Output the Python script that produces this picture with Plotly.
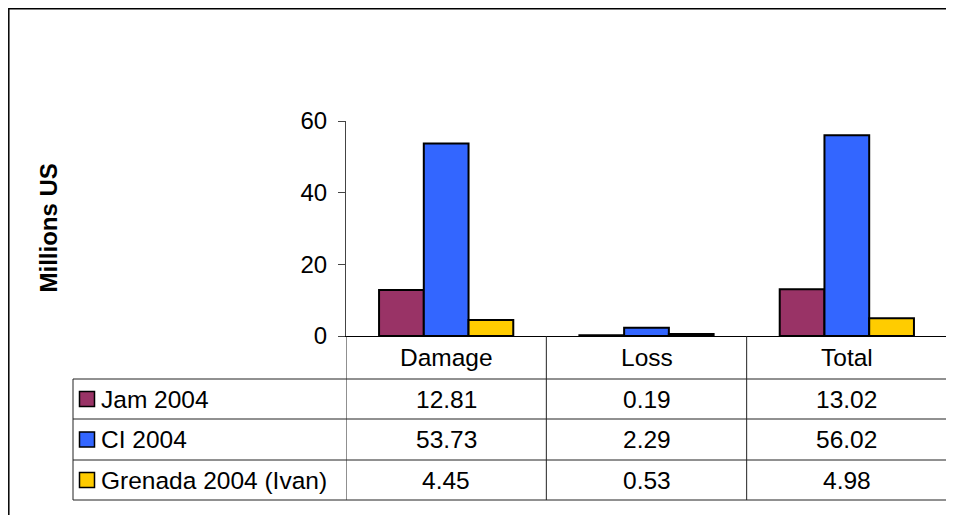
import plotly.graph_objects as go

categories = ["Damage", "Loss", "Total"]
series_names = ["Jam 2004", "CI 2004", "Grenada 2004 (Ivan)"]
jam_2004 = [12.81, 0.19, 13.02]
ci_2004 = [53.73, 2.29, 56.02]
grenada_2004 = [4.45, 0.53, 4.98]
series_colors = ["#993366", "#3366FF", "#FFCC00"]
y_ticks = [0, 20, 40, 60]
y_title = "Millions US"

series_values = [jam_2004, ci_2004, grenada_2004]

PAGE_W, PAGE_H = 954, 515
OFF = 8  # default body margin of the html page
W, H = PAGE_W - OFF, PAGE_H - OFF
# plot area in page pixels
L, R, T, B = 346, 947, 121, 336
FONT = "Liberation Sans, Arial, sans-serif"
FS_TABLE = 24.5
FS_TICK = 24
FS_TITLE = 24

def px(xp):
    return (xp - L) / (R - L)

def py(yp):
    return (B - yp) / (B - T)

fig = go.Figure()
for name, vals, col in zip(series_names, series_values, series_colors):
    fig.add_bar(x=categories, y=vals, name=name,
                marker=dict(color=col, line=dict(color="black", width=2)))

shapes = []
annotations = []
line = dict(color="#222222", width=1)

row_edges = [379, 419, 460, 500]
header_mid = (B + row_edges[0]) / 2
row_mids = [(row_edges[i] + row_edges[i + 1]) / 2 for i in range(3)]

for ye in row_edges:
    shapes.append(dict(type="line", xref="paper", yref="paper",
                       x0=px(73), x1=px(R), y0=py(ye), y1=py(ye), line=line))
shapes.append(dict(type="line", xref="paper", yref="paper",
                   x0=px(73), x1=px(73), y0=py(row_edges[0]), y1=py(500), line=line))
for i in range(len(categories) + 1):
    shapes.append(dict(type="line", xref="x", yref="paper",
                       x0=i - 0.5, x1=i - 0.5, y0=py(B), y1=py(500), line=line))

for i, cat in enumerate(categories):
    annotations.append(dict(xref="x", yref="paper", x=i, y=py(header_mid),
                            text=cat, showarrow=False, xanchor="center", yanchor="middle",
                            font=dict(family=FONT, size=FS_TABLE, color="black")))

for r, (name, vals, col) in enumerate(zip(series_names, series_values, series_colors)):
    ym = row_mids[r]
    shapes.append(dict(type="rect", xref="paper", yref="paper",
                       x0=px(79.5), x1=px(94.5), y0=py(ym - 7.5), y1=py(ym + 7.5),
                       fillcolor=col, line=dict(color="black", width=1.5)))
    annotations.append(dict(xref="paper", yref="paper", x=px(99), y=py(ym),
                            text=name, showarrow=False, xanchor="left", yanchor="middle",
                            font=dict(family=FONT, size=FS_TABLE, color="black")))
    for i, v in enumerate(vals):
        annotations.append(dict(xref="x", yref="paper", x=i, y=py(ym),
                                text=f"{v:.2f}", showarrow=False, xanchor="center",
                                yanchor="middle",
                                font=dict(family=FONT, size=FS_TABLE, color="black")))

annotations.append(dict(xref="paper", yref="paper", x=px(48), y=py((T + B) / 2),
                        text=f"<b>{y_title}</b>", textangle=-90, showarrow=False,
                        xanchor="center", yanchor="middle",
                        font=dict(family=FONT, size=FS_TITLE, color="black")))

shapes.append(dict(type="rect", xref="paper", yref="paper",
                   x0=px(OFF + 0.8), x1=px(PAGE_W + 20), y0=py(OFF + 0.8), y1=py(PAGE_H + 20),
                   line=dict(color="black", width=1.5), fillcolor="rgba(0,0,0,0)"))

fig.update_layout(
    width=W, height=H,
    margin=dict(l=L - OFF, r=PAGE_W - R, t=T - OFF, b=PAGE_H - B, pad=0),
    paper_bgcolor="white", plot_bgcolor="white",
    showlegend=False,
    barmode="group", bargap=0.33, bargroupgap=0,
    font=dict(family=FONT, size=FS_TICK, color="black"),
    xaxis=dict(showticklabels=False, ticks="", showgrid=False, zeroline=False,
               showline=True, linecolor="black", linewidth=1, range=[-0.5, 2.5]),
    yaxis=dict(range=[0, 60], tickvals=y_ticks, ticks="outside", ticklen=7,
               tickcolor="#444444", showgrid=False, zeroline=False,
               showline=True, linecolor="#444444", linewidth=1,
               ticklabelstandoff=6,
               tickfont=dict(family=FONT, size=FS_TICK, color="black")),
    shapes=shapes, annotations=annotations,
)

fig.write_html("out.html")
